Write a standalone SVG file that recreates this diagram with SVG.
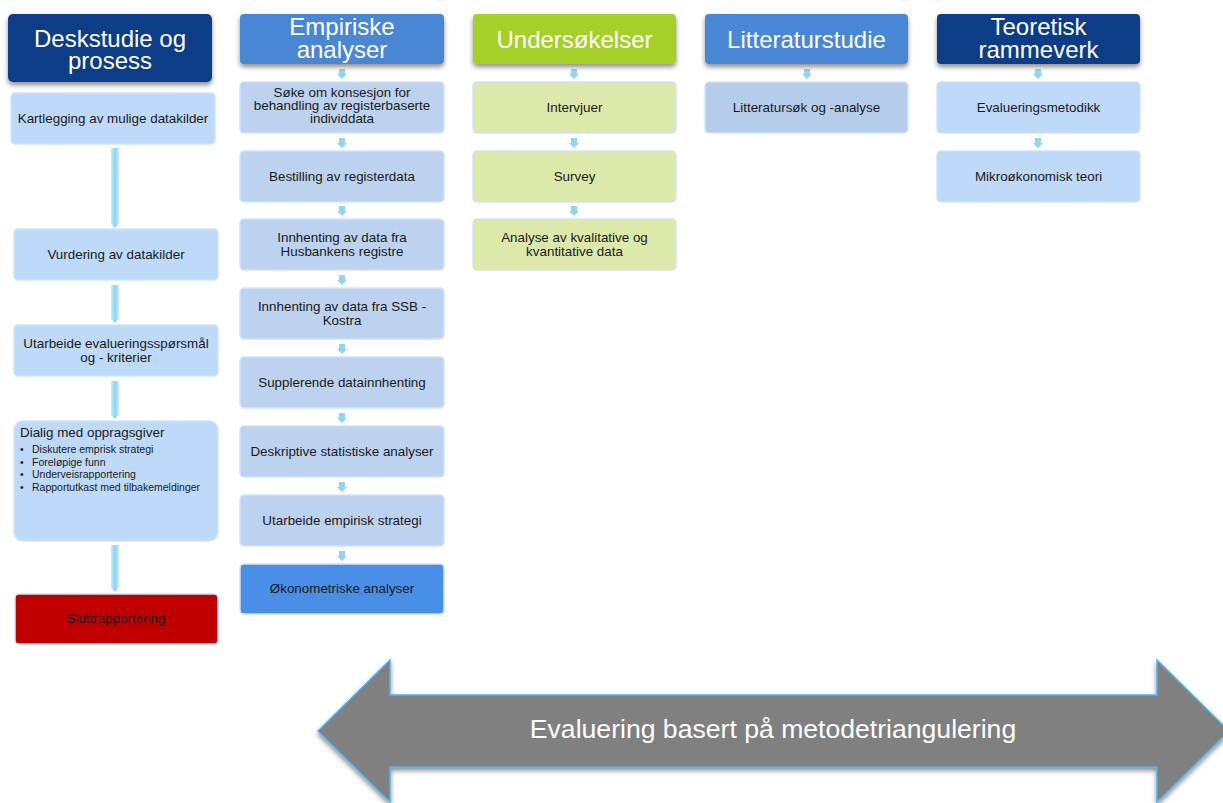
<svg xmlns="http://www.w3.org/2000/svg" width="1223" height="803" viewBox="0 0 1223 803">
<defs>
<filter id="sh" x="-10%" y="-20%" width="120%" height="150%">
<feGaussianBlur in="SourceAlpha" stdDeviation="2.5"/>
<feOffset dx="0" dy="3" result="b"/>
<feComponentTransfer><feFuncA type="linear" slope="0.45"/></feComponentTransfer>
<feMerge><feMergeNode/><feMergeNode in="SourceGraphic"/></feMerge>
</filter>
<linearGradient id="bar" x1="0" y1="0" x2="1" y2="0">
<stop offset="0" stop-color="#c8ecfb"/>
<stop offset="0.5" stop-color="#8fd3f5"/>
<stop offset="1" stop-color="#c8ecfb"/>
</linearGradient>
</defs>
<style>
.hd{stroke:none;filter:url(#sh)}
.navy{fill:#0b3d86}
.blue{fill:#4a86d3}
.green{fill:#a6cf2a}
.ht{font-family:"Liberation Sans",Arial,sans-serif;font-size:24px;fill:#ffffff;text-anchor:middle}
.bx{stroke:#cfe4fb;stroke-width:1.5}
.lb{fill:#bfd9f8}
.eb{fill:#bcd2ee}
.gb{fill:#dde9aa}
.tb{font-family:"Liberation Sans",Arial,sans-serif;font-size:13.4px;fill:#1a1a1a;text-anchor:middle}
.bl{font-family:"Liberation Sans",Arial,sans-serif;font-size:10.5px;fill:#1a1a1a}
.ar{fill:#93d3f4}
.vb{fill:url(#bar)}
</style>

<g id="connectors">
<path class="vb" d="M111,148 h8 v76 l-4,4 l-4,-4 z"/>
<path class="vb" d="M111,285 h8 v34 l-4,4 l-4,-4 z"/>
<path class="vb" d="M111,381 h8 v34 l-4,4 l-4,-4 z"/>
<path class="vb" d="M111,545 h8 v43 l-4,4 l-4,-4 z"/>
<g class="ar">
<path d="M339,69 h6 v5 h2 l-5,5 l-5,-5 h2 z"/>
<path d="M339,138 h6 v5 h2 l-5,5 l-5,-5 h2 z"/>
<path d="M339,206 h6 v5 h2 l-5,5 l-5,-5 h2 z"/>
<path d="M339,275 h6 v5 h2 l-5,5 l-5,-5 h2 z"/>
<path d="M339,344 h6 v5 h2 l-5,5 l-5,-5 h2 z"/>
<path d="M339,413 h6 v5 h2 l-5,5 l-5,-5 h2 z"/>
<path d="M339,482 h6 v5 h2 l-5,5 l-5,-5 h2 z"/>
<path d="M339,551 h6 v5 h2 l-5,5 l-5,-5 h2 z"/>
<path d="M571,69 h6 v5 h2 l-5,5 l-5,-5 h2 z"/>
<path d="M571,138 h6 v5 h2 l-5,5 l-5,-5 h2 z"/>
<path d="M571,206 h6 v5 h2 l-5,5 l-5,-5 h2 z"/>
<path d="M804,69 h6 v5 h2 l-5,5 l-5,-5 h2 z"/>
<path d="M1035,69 h6 v5 h2 l-5,5 l-5,-5 h2 z"/>
<path d="M1035,138 h6 v5 h2 l-5,5 l-5,-5 h2 z"/>
</g>
</g>

<g id="h1"><rect class="hd navy" x="8" y="14" width="204" height="68" rx="5"/><text class="ht"><tspan x="110" y="47">Deskstudie og</tspan><tspan x="110" y="69">prosess</tspan></text></g>
<g id="n1"><rect class="bx lb" x="11" y="93" width="204" height="51" rx="4"/><text class="tb" x="113" y="123">Kartlegging av mulige datakilder</text></g>
<g id="n2"><rect class="bx lb" x="14" y="229" width="204" height="51" rx="4"/><text class="tb" x="116" y="259">Vurdering av datakilder</text></g>
<g id="n3"><rect class="bx lb" x="14" y="325" width="204" height="51" rx="4"/><text class="tb"><tspan x="116" y="348">Utarbeide evalueringsspørsmål</tspan><tspan x="116" y="362">og - kriterier</tspan></text></g>
<g id="n4"><rect class="bx lb" x="14" y="421" width="204" height="120" rx="9"/>
<text class="tb" x="20" y="437" style="text-anchor:start">Dialig med oppragsgiver</text>
<text class="bl"><tspan x="20" y="453">•</tspan><tspan x="32" y="453">Diskutere emprisk strategi</tspan><tspan x="20" y="466">•</tspan><tspan x="32" y="466">Foreløpige funn</tspan><tspan x="20" y="478">•</tspan><tspan x="32" y="478">Underveisrapportering</tspan><tspan x="20" y="491">•</tspan><tspan x="32" y="491">Rapportutkast med tilbakemeldinger</tspan></text></g>
<g id="n5"><rect class="bx" fill="#c00000" x="15" y="594" width="203" height="50" rx="4"/><text class="tb" x="116" y="623">Sluttrapportering</text></g>

<g id="h2"><rect class="hd blue" x="240" y="14" width="204" height="50" rx="4"/><text class="ht"><tspan x="342" y="35">Empiriske</tspan><tspan x="342" y="58">analyser</tspan></text></g>
<g id="e1"><rect class="bx eb" x="240" y="82" width="204" height="51" rx="4"/><text class="tb"><tspan x="342" y="97">Søke om konsesjon for</tspan><tspan x="342" y="110">behandling av registerbaserte</tspan><tspan x="342" y="123">individdata</tspan></text></g>
<g id="e2"><rect class="bx eb" x="240" y="151" width="204" height="51" rx="4"/><text class="tb" x="342" y="181">Bestilling av registerdata</text></g>
<g id="e3"><rect class="bx eb" x="240" y="219" width="204" height="51" rx="4"/><text class="tb"><tspan x="342" y="242">Innhenting av data fra</tspan><tspan x="342" y="256">Husbankens registre</tspan></text></g>
<g id="e4"><rect class="bx eb" x="240" y="288" width="204" height="51" rx="4"/><text class="tb"><tspan x="342" y="311">Innhenting av data fra SSB -</tspan><tspan x="342" y="325">Kostra</tspan></text></g>
<g id="e5"><rect class="bx eb" x="240" y="357" width="204" height="51" rx="4"/><text class="tb" x="342" y="387">Supplerende datainnhenting</text></g>
<g id="e6"><rect class="bx eb" x="240" y="426" width="204" height="51" rx="4"/><text class="tb" x="342" y="456">Deskriptive statistiske analyser</text></g>
<g id="e7"><rect class="bx eb" x="240" y="495" width="204" height="51" rx="4"/><text class="tb" x="342" y="525">Utarbeide empirisk strategi</text></g>
<g id="e8"><rect class="bx" fill="#4a8fe7" x="240" y="564" width="204" height="50" rx="4"/><text class="tb" x="342" y="593">Økonometriske analyser</text></g>

<g id="h3"><rect class="hd green" x="473" y="14" width="203" height="50" rx="4"/><text class="ht" x="574.5" y="48">Undersøkelser</text></g>
<g id="u1"><rect class="bx gb" x="473" y="82" width="203" height="51" rx="4"/><text class="tb" x="574.5" y="112">Intervjuer</text></g>
<g id="u2"><rect class="bx gb" x="473" y="151" width="203" height="51" rx="4"/><text class="tb" x="574.5" y="181">Survey</text></g>
<g id="u3"><rect class="bx gb" x="473" y="219" width="203" height="51" rx="4"/><text class="tb"><tspan x="574.5" y="242">Analyse av kvalitative og</tspan><tspan x="574.5" y="256">kvantitative data</tspan></text></g>

<g id="h4"><rect class="hd blue" x="705" y="14" width="203" height="50" rx="4"/><text class="ht" x="806.5" y="48">Litteraturstudie</text></g>
<g id="l1"><rect class="bx" fill="#b5cdeb" x="705" y="82" width="203" height="51" rx="4"/><text class="tb" x="806.5" y="112">Litteratursøk og -analyse</text></g>

<g id="h5"><rect class="hd navy" x="937" y="14" width="203" height="50" rx="4"/><text class="ht"><tspan x="1038.5" y="35">Teoretisk</tspan><tspan x="1038.5" y="58">rammeverk</tspan></text></g>
<g id="t1"><rect class="bx lb" x="937" y="82" width="203" height="51" rx="4"/><text class="tb" x="1038.5" y="112">Evalueringsmetodikk</text></g>
<g id="t2"><rect class="bx lb" x="937" y="151" width="203" height="51" rx="4"/><text class="tb" x="1038.5" y="181">Mikroøkonomisk teori</text></g>

<g id="bigarrow">
<path d="M318,731 L390,660 L390,695 L1157,695 L1157,660 L1229,731 L1157,802 L1157,767 L390,767 L390,802 Z" fill="#808080" stroke="#4db3f2" stroke-width="1.5" filter="url(#sh)"/>
<text x="773" y="738" font-family="'Liberation Sans',Arial,sans-serif" font-size="26.6" fill="#ffffff" text-anchor="middle">Evaluering basert på metodetriangulering</text>
</g>
</svg>
